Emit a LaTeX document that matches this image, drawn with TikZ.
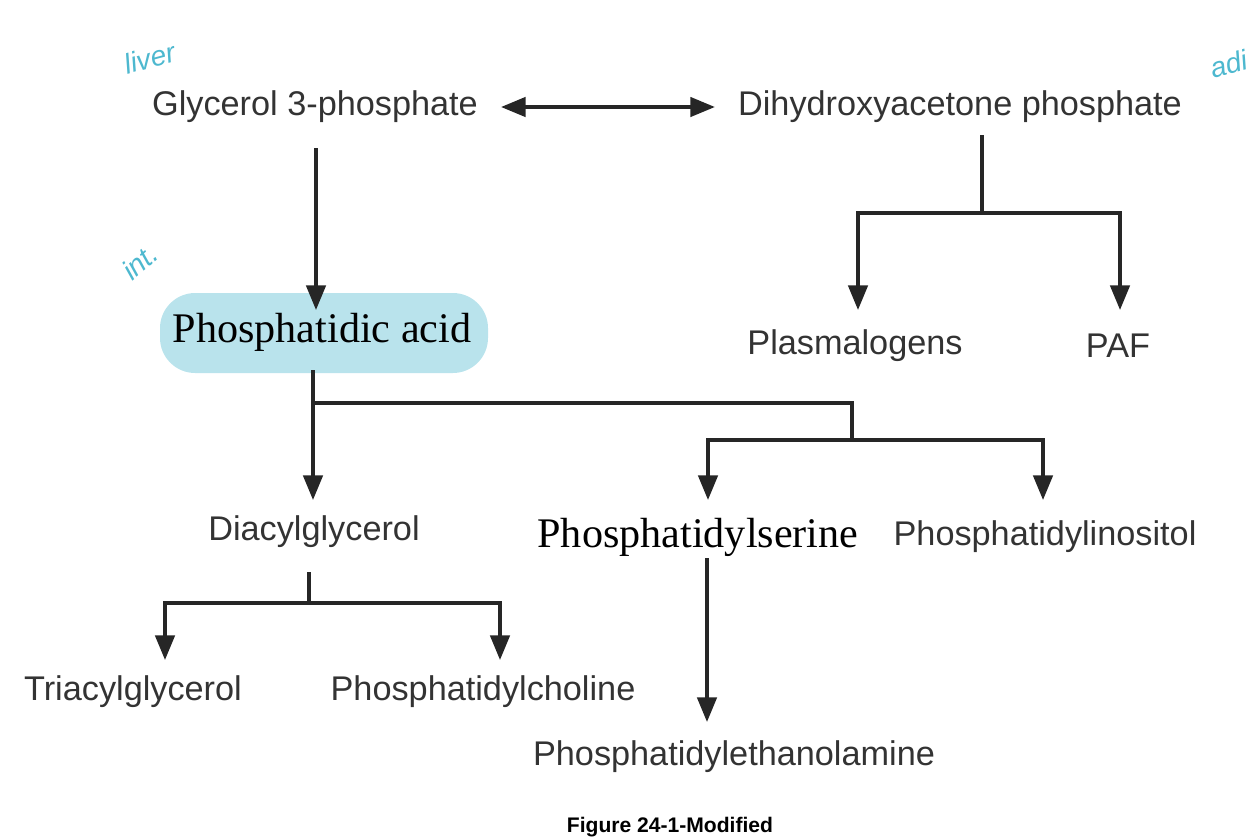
\documentclass[tikz,border=0pt]{standalone}
\usepackage{fontspec}
\setmainfont{Liberation Sans}
\newfontfamily\serif{Liberation Serif}
\usetikzlibrary{arrows.meta}
\definecolor{hl}{HTML}{B9E3EC}
\definecolor{hand}{HTML}{4DB8CF}
\definecolor{txt}{HTML}{333333}
\begin{document}
\begin{tikzpicture}[x=0.02cm,y=-0.02cm,
  lbl/.style={font=\fontsize{19.5}{22}\selectfont,text=txt,inner sep=1pt},
  big/.style={font=\serif\fontsize{24}{27}\selectfont,text=black,inner sep=1pt},
  ln/.style={line width=2pt,black!85},
  ar/.style={ln,-{Triangle[length=14pt,width=11pt]}},
  hw/.style={font=\itshape\fontsize{16}{18}\selectfont,text=hand}]
\useasboundingbox (0,0) rectangle (1254,836);
\fill[hl,rounded corners=20pt] (160,293) rectangle (488,373);
\node[lbl] (g3p) at (315,107) {Glycerol 3-phosphate};
\node[lbl] (dhap) at (960,107) {Dihydroxyacetone phosphate};
\node[big] (pa) at (322,332) {Phosphatidic acid};
\node[lbl] (pl) at (855,346) {Plasmalogens};
\node[lbl] (paf) at (1118,346) {PAF};
\node[lbl] (dag) at (314,532) {Diacylglycerol};
\node[big] (ps) at (698,537) {Phosphatidylserine};
\node[lbl] (pi) at (1045,537) {Phosphatidylinositol};
\node[lbl] (tag) at (133,692) {Triacylglycerol};
\node[lbl] (pc) at (483,692) {Phosphatidylcholine};
\node[lbl] (pe) at (734,757) {Phosphatidylethanolamine};
\node[font=\bfseries\fontsize{12}{14}\selectfont] (cap) at (670,827) {Figure 24-1-Modified};
\node[hw,rotate=15] (h1) at (150,58) {liver};
\node[hw,rotate=40] (h2) at (140,262) {int.};
\node[hw,rotate=15,anchor=west] (h3) at (1205,70) {adi};
\coordinate (jd) at (982,213);
\coordinate (jp) at (313,403);
\coordinate (jr) at (852,403);
\coordinate (jr2) at (852,440);
\coordinate (jg) at (309,603);
\draw[ln,{Triangle[length=14pt,width=11pt]}-{Triangle[length=14pt,width=11pt]}] ([xshift=12]g3p.east) -- ([xshift=-12]dhap.west);
\draw[ar] (316,148) -- (316,310);
\draw[ln] (982,135) -- (jd);
\draw[ar] (jd) -| (858,310);
\draw[ar] (jd) -| (1120,310);
\draw[ln] (313,370) -- (jp) -- (jr) -- (jr2);
\draw[ar] (jp) -- (313,500);
\draw[ar] (jr2) -| (708,500);
\draw[ar] (jr2) -| (1043,500);
\draw[ln] (309,572) -- (jg);
\draw[ar] (jg) -| (165,660);
\draw[ar] (jg) -| (500,660);
\draw[ar] (707,558) -- (707,722);
\end{tikzpicture}
\end{document}
